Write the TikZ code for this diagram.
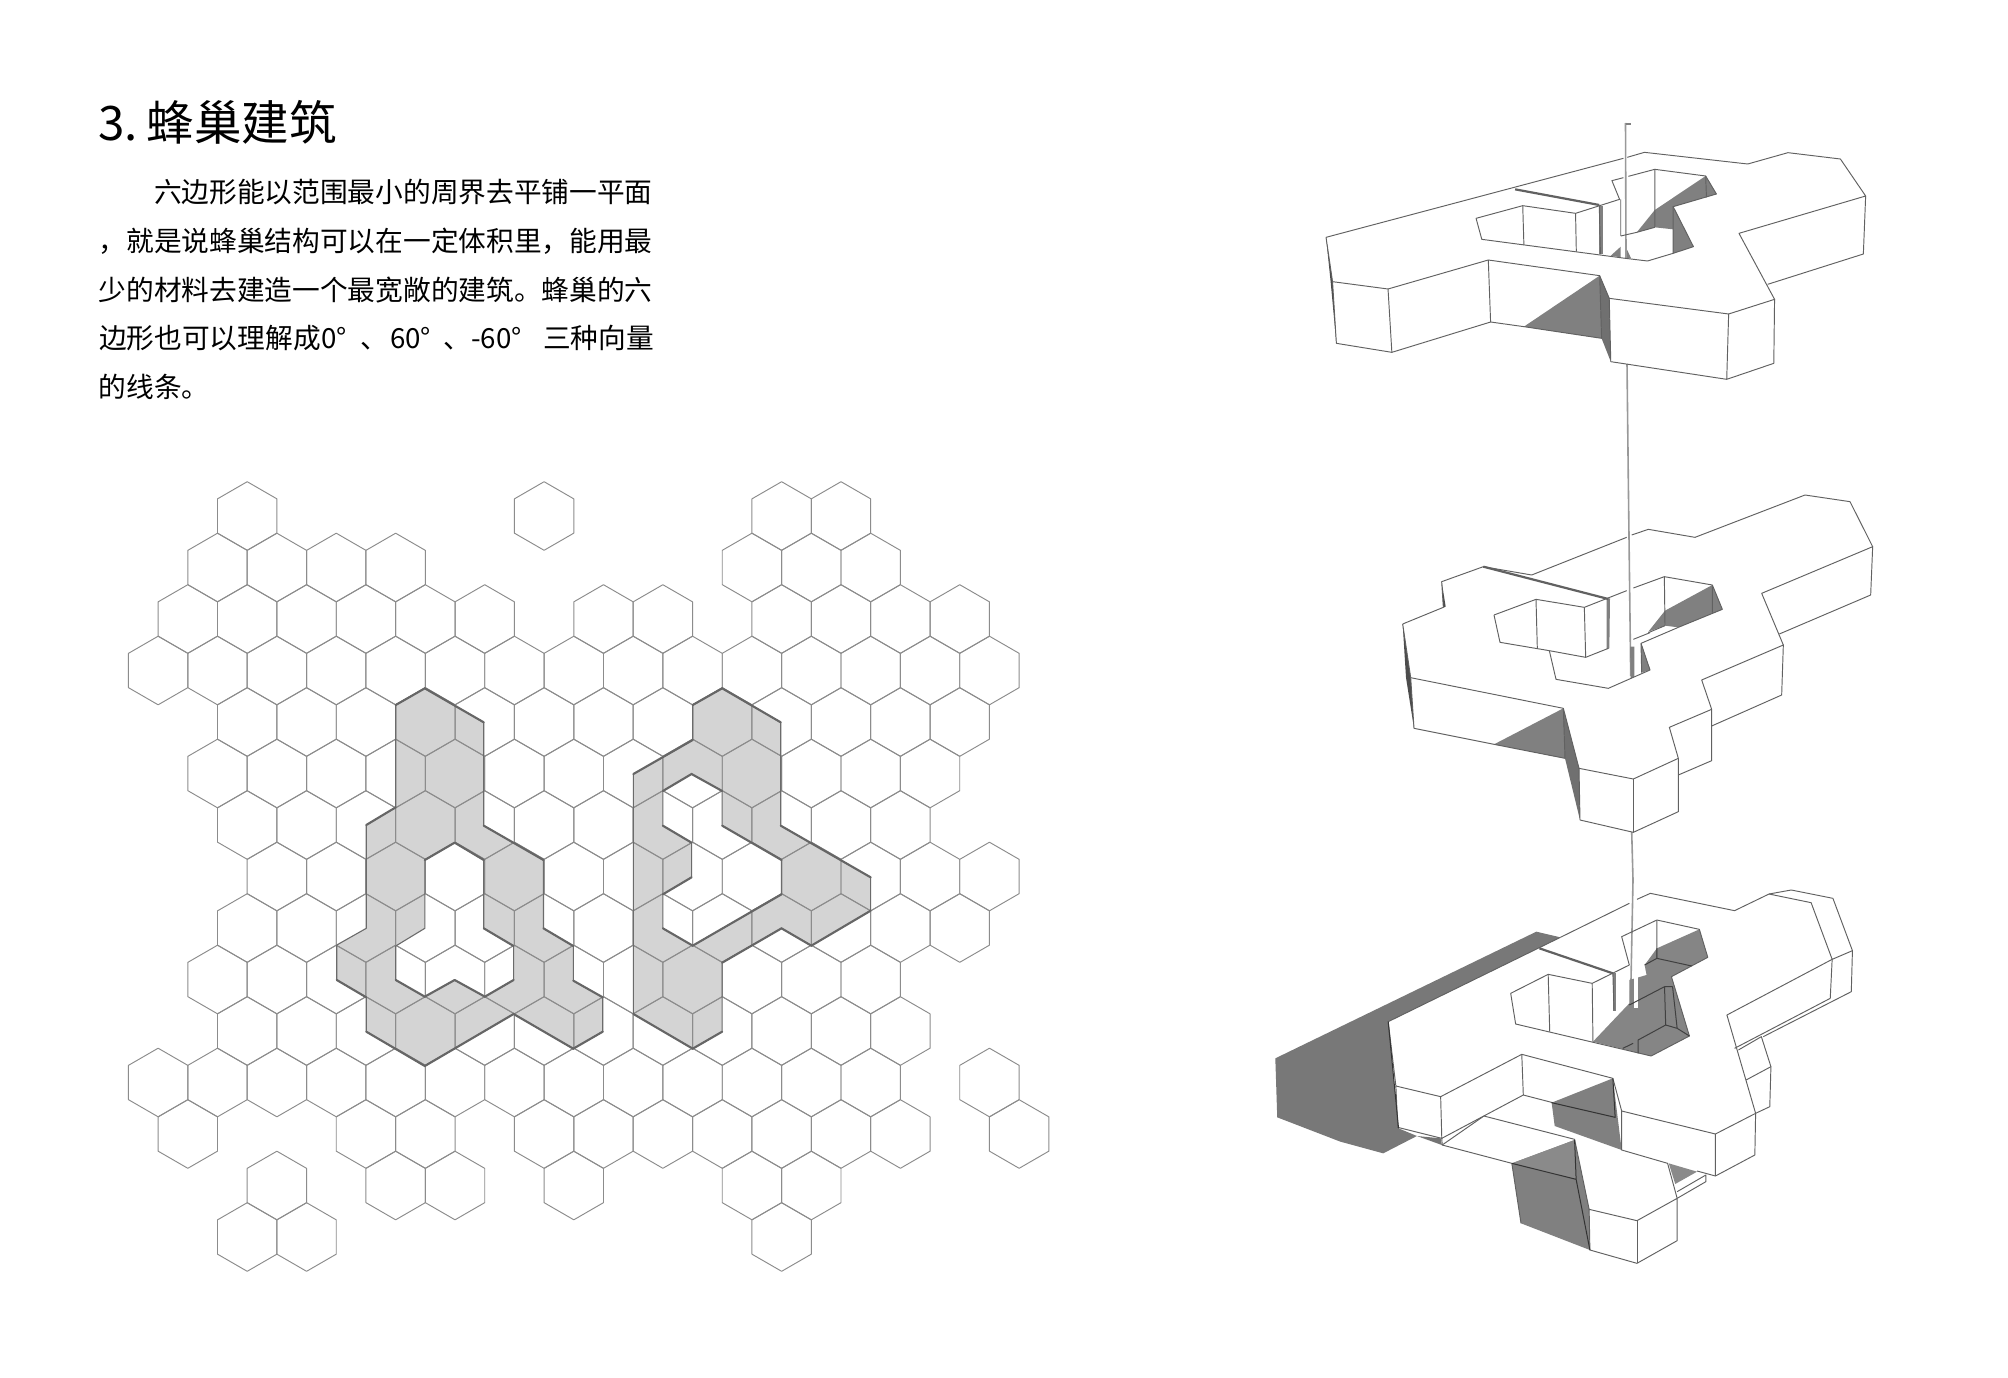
\documentclass[tikz,border=0pt]{standalone}
\usepackage{fontspec}
\setmainfont{Noto Sans CJK SC}
\newcommand{\putat}[2]{\makebox[0pt][l]{\kern#1pt #2}}
\tikzset{
  txt/.style={anchor=base west,inner sep=0pt,outer sep=0pt,font=\fontsize{27.7}{30}\selectfont,text=black},
  hexline/.style={draw=black!45,line width=0.95pt,line join=round},
  shadefill/.style={fill=black!17,draw=none},
  edgeline/.style={draw=black!58,line width=1.1pt,line join=round},
  edgethick/.style={draw=black!60,line width=2.1pt,line cap=round},
  bl/.style={draw=black!62,line width=0.95pt,line join=round},
  bthick/.style={draw=black!62,line width=2.2pt},
  gA/.style={fill=black!50,draw=none},
  gB/.style={fill=black!56,draw=none},
  gC/.style={fill=black!42,draw=none},
  rod/.style={draw=black!40,line width=1.6pt},
  zoomA/.style={x=0.38270pt,y=-0.33333pt},
  zoomB/.style={x=0.33333pt,y=-0.33333pt}
}
\begin{document}
\begin{tikzpicture}[x=1pt,y=-1pt]
\useasboundingbox (0,0) rectangle (2008,1378);
\fill[white] (0,0) rectangle (2008,1378);

% --- text ---
\node[txt,font=\fontsize{47.5}{52}\selectfont] (title) at (98,141) {3.\kern-5pt{} 蜂巢建筑};
\node[txt] (l1) at (154,202.5) {六边形能以范围最小的周界去平铺一平面};
\node[txt] (l2) at (98.6,251) {，就是说蜂巢结构可以在一定体积里，能用最};
\node[txt] (l3) at (98.6,300) {少的材料去建造一个最宽敞的建筑。蜂巢的六};
\node[txt] (l4) at (98.6,348) {\putat{0}{边形也可以理解成}\putat{222}{0°}\putat{261}{、}\putat{291}{60°}\putat{344}{、}\putat{372}{-60°}\putat{444}{三种向量}};
\node[txt] (l5) at (98.6,397) {的线条。};

% --- shaded plan ---
\begin{scope}[shift={(310,660)},zoomA]
\fill[shadefill,even odd rule]
  (70,855)--(147,805)--(147,495)--(224,442)--(224,135)--(300,85)--(454,187)--(454,497)--(610,600)--(610,805)--(688,858)--(688,962)--(765,1012)--(765,1115)--(688,1166)--(532,1062)--(300,1218)--(147,1115)--(147,1012)--(70,960)--cycle
  (378,548)--(454,600)--(454,805)--(532,858)--(532,960)--(457,1010)--(378,960)--(300,1010)--(224,960)--(224,858)--(300,805)--(300,600)--cycle;
\fill[shadefill,even odd rule]
  (1000,135)--(1077,85)--(1230,187)--(1230,497)--(1465,652)--(1465,752)--(1310,857)--(1232,805)--(1077,908)--(1077,1115)--(1000,1166)--(845,1062)--(845,342)--(1000,240)--cycle
  (922,393)--(997,342)--(1077,393)--(1077,497)--(1232,600)--(1232,703)--(1000,857)--(922,805)--(922,703)--(997,652)--(997,548)--(922,497)--cycle;
\end{scope}

% --- hexagon grid ---
\foreach \r/\list in {
  0/{0,10,18,20},
  1/{-1,1,3,5,17,19,21},
  2/{-2,0,2,4,6,8,12,14,18,20,22,24},
  3/{-3,-1,1,3,5,7,9,11,13,15,17,19,21,23,25},
  4/{0,2,4,6,8,10,12,14,16,18,20,22,24},
  5/{-1,1,3,5,7,9,11,13,15,17,19,21,23},
  6/{0,2,4,6,8,10,12,14,16,18,20,22},
  7/{1,3,5,7,9,11,13,15,17,19,21,23,25},
  8/{0,2,4,6,8,10,12,14,16,18,20,22,24},
  9/{-1,1,3,5,7,9,11,13,15,17,19,21},
  10/{0,2,4,6,8,10,12,14,16,18,20,22},
  11/{-3,-1,1,3,5,7,9,11,13,15,17,19,21,25},
  12/{-2,4,6,10,12,14,16,18,20,22,26},
  13/{1,5,7,11,17,19},
  14/{0,2,18}}{
  \foreach \k in \list {
    \pgfmathsetmacro{\cx}{247.2+29.69*\k}
    \pgfmathsetmacro{\cy}{516+51.5*\r}
    \draw[hexline,shift={(\cx,\cy)}] (0,-34.3)--(29.69,-17.15)--(29.69,17.15)--(0,34.3)--(-29.69,17.15)--(-29.69,-17.15)--cycle;
  }
}

% --- plan outlines ---
\begin{scope}[shift={(310,660)},zoomA]
\draw[edgeline] (70,855)--(147,805)--(147,495)--(224,442)--(224,135)--(300,85)--(454,187)--(454,497)--(610,600)--(610,805)--(688,858)--(688,962)--(765,1012)--(765,1115)--(688,1166)--(532,1062)--(300,1218)--(147,1115)--(147,1012)--(70,960)--cycle;
\draw[edgeline] (378,548)--(454,600)--(454,805)--(532,858)--(532,960)--(457,1010)--(378,960)--(300,1010)--(224,960)--(224,858)--(300,805)--(300,600)--cycle;
\draw[edgeline] (1000,135)--(1077,85)--(1230,187)--(1230,497)--(1465,652)--(1465,752)--(1310,857)--(1232,805)--(1077,908)--(1077,1115)--(1000,1166)--(845,1062)--(845,342)--(1000,240)--cycle;
\draw[edgeline] (922,393)--(997,342)--(1077,393)--(1077,497)--(1232,600)--(1232,703)--(1000,857)--(922,805)--(922,703)--(997,652)--(997,548)--(922,497)--cycle;
\draw[edgethick] (224,135)--(300,85)--(454,187) (454,497)--(610,600) (610,805)--(688,858) (688,962)--(765,1012) (765,1115)--(688,1166)--(532,1062)--(300,1218)--(147,1115) (70,960)--(147,1012) (147,495)--(224,442);
\draw[edgethick] (378,548)--(454,600) (300,600)--(378,548) (454,805)--(532,858) (378,960)--(457,1010)--(532,960) (224,960)--(300,1010)--(378,960);
\draw[edgethick] (1000,135)--(1077,85)--(1230,187) (1230,497)--(1465,652) (1465,752)--(1310,857)--(1232,805)--(1077,908) (1077,1115)--(1000,1166)--(845,1062) (845,342)--(1000,240);
\draw[edgethick] (922,393)--(997,342)--(1077,393) (1077,497)--(1232,600) (1232,703)--(1000,857)--(922,805) (922,703)--(997,652) (997,548)--(922,497);
\end{scope}

% --- vertical rod ---
\draw[rod] (1625.5,123)--(1626,258);
\draw[rod] (1627,364)--(1628.3,480)--(1630.7,676);
\draw[rod] (1631.7,832)--(1633,880)--(1630.5,1005);
\draw[black!50,line width=0.8pt] (1625.5,123)--(1630,123)--(1630,124.5)--(1625.5,124.5);

% --- building 1 ---
\begin{scope}[shift={(1300,110)},zoomA]
\fill[gA] (783,497)--(788,685)--(585,650)--cycle;
\fill[gB] (783,497)--(808,565)--(812,755)--(788,685)--cycle;
\fill[gA] (1060,198)--(927,300)--(880,367)--(927,352)--(975,358)--(975,290)--(1088,252)--cycle;
\fill[gA] (975,290)--(1028,410)--(975,430)--cycle;
\fill[gA] (812,437)--(838,410)--(838,442)--cycle;
\fill[gA] (855,420)--(865,445)--(855,445)--cycle;
\fill[gA] (782,287)--(792,287)--(792,433)--(782,433)--cycle;
\fill[black!70] (68,382)--(85,515)--(95,700)--(80,515)--cycle;
\draw[bl] (68,382)--(845,145) (855,142)--(900,127)--(1170,162)--(1275,128)--(1412,147)--(1478,258)--(1147,370)--(1240,568)--(1120,612)--(808,565)--(783,497)--(492,450)--(230,537)--(85,515)--(68,382);
\draw[bl] (1478,258)--(1472,432)--(1222,523);
\draw[bl] (85,515)--(95,700)--(240,727)--(498,636)--(585,650);
\draw[bl] (230,537)--(240,727) (492,450)--(498,636);
\draw[bl] (585,650)--(788,685)--(783,497);
\draw[bl] (808,565)--(812,755)--(1115,808)--(1238,760)--(1240,568) (1120,612)--(1115,808);
\draw[bl] (460,325)--(582,287)--(720,310)--(835,268)--(815,212)--(845,203) (858,199)--(927,178)--(1060,198)--(1088,252)--(975,290)--(1028,410)--(975,430)--(908,453)--(850,445)--(475,388)--(460,325);
\draw[bl] (582,287)--(585,405) (720,310)--(722,425) (927,178)--(927,352) (975,290)--(975,430) (1060,198)--(1062,262);
\draw[bl] (782,287)--(785,433) (838,268)--(838,378) (838,378)--(880,367) (880,367)--(927,352);
\draw[bthick] (562,238)--(782,285);
\end{scope}

% --- building 2 ---
\begin{scope}[shift={(1380,480)},zoomB]
\fill[gA] (550,685)--(342,793)--(555,835)--cycle;
\fill[gB] (550,685)--(597,865)--(600,1020)--(555,835)--cycle;
\fill[gA] (997,315)--(855,392)--(805,455)--(855,437)--(895,442)--(1027,388)--cycle;
\fill[gA] (783,490)--(810,570)--(785,578)--cycle;
\fill[gA] (680,355)--(690,355)--(688,505)--(680,508)--cycle;
\fill[gA] (750,500)--(763,500)--(763,590)--(752,595)--cycle;
\fill[black!70] (68,432)--(92,593)--(102,745)--(78,593)--cycle;
\fill[black!70] (185,305)--(197,380)--(190,383)--cycle;
\draw[bl] (68,432)--(190,382)--(185,305)--(310,260)--(455,285)--(740,172) (755,165)--(805,148)--(945,172)--(1275,45)--(1410,65)--(1478,200)--(1145,340)--(1210,495)--(965,600)--(995,688)--(868,742)--(895,835)--(760,897)--(597,865)--(550,685)--(92,593)--(68,432);
\draw[bl] (1478,200)--(1472,345)--(1198,462);
\draw[bl] (1210,495)--(1205,645)--(995,738);
\draw[bl] (995,688)--(995,842)--(895,885);
\draw[bl] (895,835)--(895,995)--(760,1057)--(600,1020);
\draw[bl] (760,897)--(760,1057);
\draw[bl] (597,865)--(600,1020);
\draw[bl] (92,593)--(102,745)--(342,793)--(555,835)--(550,685);
\draw[bl] (342,405)--(468,358)--(613,382)--(740,332) (760,324)--(853,290)--(997,315)--(1027,388)--(895,442) (855,437)--(805,458) (810,458)--(760,478) (783,490)--(810,570)--(685,625)--(528,598)--(508,512)--(360,487)--(342,405);
\draw[bl] (783,490)--(895,442);
\draw[bl] (468,358)--(472,507) (613,382)--(617,532) (853,290)--(855,437) (997,315)--(997,398);
\draw[bl] (508,512)--(617,532)--(685,505);
\draw[bl] (783,490)--(785,578);
\draw[bthick] (310,260)--(685,357);
\end{scope}

% --- building 3 ---
\begin{scope}[shift={(1260,880)},zoomA]
\fill[black!53] (722,155)--(785,172)--(335,425)--(362,745)--(410,768)--(322,820)--(210,785)--(45,712)--(40,535)--cycle;
\fill[gC,fill=black!50] (762,668)--(922,595)--(945,810)--(770,738)--cycle;
\fill[gA] (658,850)--(822,780)--(860,988)--(862,1110)--(682,1030)--cycle;
\fill[black!46] (658,850)--(822,780)--(826,898)--cycle;
\fill[black!46] (1068,850)--(1142,875)--(1085,912)--cycle;
\fill[black!48] (1148,148)--(1037,205)--(1005,255)--(1010,285)--(965,300)--(965,370)--(870,485)--(1022,528)--(1122,468)--(1075,290)--(1170,232)--cycle;
\fill[black!55] (410,768)--(472,775)--(475,795)--cycle;
\fill[white] (977,270)--(987,270)--(987,385)--(977,385)--cycle;
\fill[black!50] (922,280)--(930,280)--(930,392)--(922,392)--cycle;
\draw[bl] (785,172)--(965,70) (985,58)--(1020,40)--(1240,92)--(1330,42)--(1388,30)--(1497,55)--(1548,212)--(1545,335)--(1315,470);
\draw[bl] (1330,42)--(1440,68)--(1495,238)--(1548,212);
\draw[bl] (1495,238)--(1220,405)--(1295,700)--(1190,762)--(945,693)--(922,595)--(684,523)--(472,650)--(355,618)--(335,425)--(785,172);
\draw[bl] (1495,238)--(1490,355)--(1240,505);
\draw[bl] (1250,510)--(1310,470)--(1335,560)--(1270,600);
\draw[bl] (1335,560)--(1332,680)--(1295,700);
\draw[bl] (1190,762)--(1190,888)--(1293,825)--(1295,700);
\draw[bl] (355,618)--(360,742)--(475,775)--(472,650);
\draw[bl] (684,523)--(688,645)--(475,775);
\draw[bl] (688,645)--(765,668);
\draw[bl] (476,795)--(585,708)--(822,778)--(860,988);
\draw[bl] (475,775)--(476,795)--(658,850)--(682,1030);
\draw[bl] (945,693)--(945,810)--(1065,850)--(1090,955)--(985,1022)--(860,988)--(862,1110)--(985,1150)--(1090,1082)--(1090,955);
\draw[bl] (985,1022)--(985,1150);
\draw[bl] (1190,888)--(1142,873) (1090,935)--(1165,885)--(1165,905)--(1090,955);
\draw[black!80,line width=1pt] (335,425)--(362,745) (762,668)--(928,712)--(922,595) (658,850)--(826,898)--(862,1110) (822,780)--(826,898);
\draw[bl] (655,340)--(753,283)--(868,310)--(965,255)--(945,170)--(1037,120)--(1148,148)--(1170,232)--(1075,290)--(1122,468)--(1022,528)--(668,432)--(655,340);
\draw[bl] (753,283)--(757,455) (868,310)--(870,485) (922,280)--(925,392) (1037,120)--(1037,235);
\draw[black!75,line width=1pt] (1037,235)--(1128,258) (1037,205)--(1037,235)--(1005,255) (1057,320)--(965,375) (1057,320)--(1060,435)--(988,480)--(988,520) (1060,435)--(1090,445)--(1122,468) (1078,320)--(1090,445) (948,505)--(975,490) (1057,320)--(1078,320);
\draw[bthick] (730,205)--(922,280);
\end{scope}
\end{tikzpicture}
\end{document}
